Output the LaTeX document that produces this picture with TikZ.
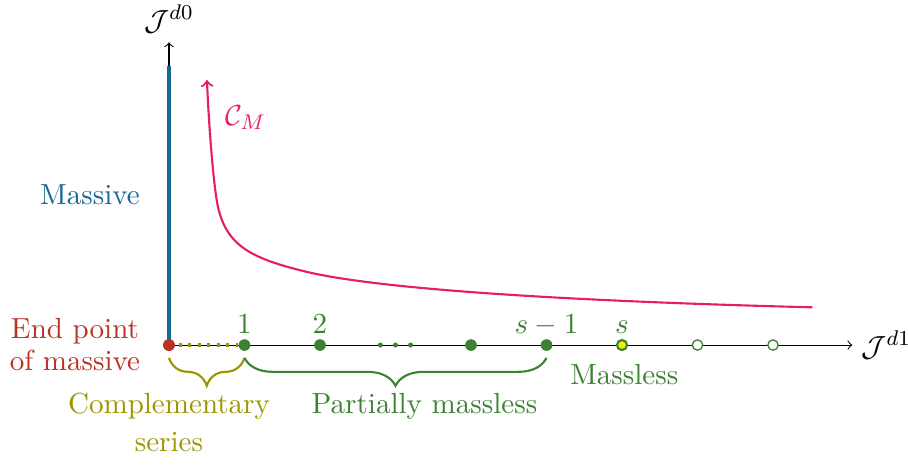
\documentclass[tikz,border=0pt]{standalone}
\usetikzlibrary{decorations.pathreplacing}
\definecolor{massblue}{RGB}{22,104,150}
\definecolor{cmpink}{RGB}{232,30,100}
\definecolor{endred}{RGB}{185,50,35}
\definecolor{olivec}{RGB}{155,150,0}
\definecolor{greenc}{RGB}{60,130,50}
\definecolor{dotyellow}{RGB}{240,240,0}
\tikzset{
  axis/.style={->, line width=0.4pt},
  bigdot/.style={circle, fill=greenc, inner sep=0pt, minimum size=4.4pt},
  smalldot/.style={circle, fill=greenc, inner sep=0pt, minimum size=1.9pt},
  opendot/.style={circle, draw=greenc, fill=white, line width=0.5pt, inner sep=0pt, minimum size=3.9pt},
  enddot/.style={circle, fill=endred, inner sep=0pt, minimum size=4.5pt},
  sdot/.style={circle, draw=greenc, fill=dotyellow, line width=0.8pt, inner sep=0pt, minimum size=3.8pt},
  ptlabel/.style={anchor=base, inner sep=0pt, text=greenc},
  txt/.style={anchor=base, inner sep=0pt},
  bracestyle/.style={decorate, decoration={brace, mirror, amplitude=10.5pt}, line width=0.8pt},
}
\begin{document}
\begin{tikzpicture}[font=\fontsize{10.95}{13.6}\selectfont]
\useasboundingbox (-2.238,-1.576) rectangle (9.788,4.570);
% axes
\coordinate (O) at (0,0);
\coordinate (xend) at (9.05,0);
\coordinate (yend) at (0,4.01);
\coordinate (mtop) at (0,3.70);
\draw[axis] (O) -- (xend) node[right] (xlab) {$\mathcal{J}^{d1}$};
\draw[axis] (O) -- (yend) node[above] (ylab) {$\mathcal{J}^{d0}$};
\draw[massblue, line width=1.8pt] (O) -- (mtop);
% points
\node[bigdot] (p1) at (1,0) {};
\node[bigdot] (p2) at (2,0) {};
\node[smalldot] (d1) at (2.8,0) {};
\node[smalldot] (d2) at (3.0,0) {};
\node[smalldot] (d3) at (3.2,0) {};
\node[bigdot] (p4) at (4,0) {};
\node[bigdot] (p5) at (5,0) {};
\node[sdot] (p6) at (6,0) {};
\node[opendot] (p7) at (7,0) {};
\node[opendot] (p8) at (8,0) {};
\draw[olivec, line width=1.2pt, dash pattern=on 1.2pt off 2.4pt] (O) -- (p1.west);
\node[enddot] (p0) at (0,0) {};
% point labels
\node[ptlabel] (l1) at (1,0.155) {1};
\node[ptlabel] (l2) at (2,0.155) {2};
\node[ptlabel] (l5) at (5,0.155) {$s-1$};
\node[ptlabel] (l6) at (6,0.155) {$s$};
% side labels
\node[txt, text=massblue] (lmass) at (-1.046,1.86) {Massive};
\node[txt, text=endred] (lend1) at (-1.245,0.093) {End point};
\node[txt, text=endred] (lend2) at (-1.245,-0.34) {of massive};
% braces
\coordinate (b0) at (0,-0.17);
\coordinate (b1) at (1,-0.17);
\coordinate (b5) at (5,-0.17);
\draw[bracestyle, olivec] (b0) -- (b1);
\draw[bracestyle, greenc] (b1) -- (b5);
\node[txt, text=olivec] (lcomp1) at (0,-0.905) {Complementary};
\node[txt, text=olivec] (lcomp2) at (0,-1.413) {series};
\node[txt, text=greenc] (lpm) at (3.384,-0.905) {Partially massless};
\node[txt, text=greenc] (lml) at (6.03,-0.517) {Massless};
% curve C_M
\coordinate (cstart) at (8.52,0.50);
\coordinate (cm1) at (1.78,0.98);
\coordinate (cm2) at (0.632,1.92);
\coordinate (cend) at (0.503,3.51);
\draw[->, cmpink, line width=0.8pt] (cstart)
  .. controls (7.02,0.5375) and (3.08,0.655) .. (cm1)
  .. controls (1.08,1.155) and (0.728,1.32) .. (cm2)
  .. controls (0.576,2.27) and (0.523,3.01) .. (cend);
\node[anchor=base west, inner sep=0pt, text=cmpink] (lcm) at (0.74,2.91) {$\mathcal{C}_M$};
\end{tikzpicture}
\end{document}
